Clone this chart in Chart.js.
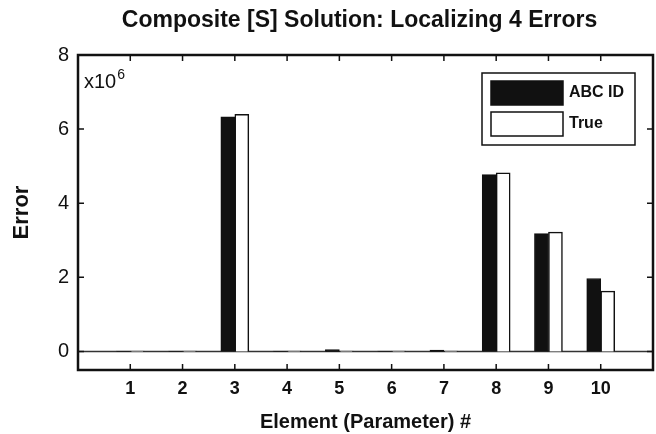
<!DOCTYPE html>
<html>
<head>
<meta charset="utf-8">
<script src="https://cdn.jsdelivr.net/npm/chart.js@4.4.1/dist/chart.umd.min.js"></script>
<style>
  html, body { margin: 0; padding: 0; background: #fff; }
  #wrap { width: 656px; height: 434px; }
</style>
</head>
<body>
<div id="wrap"><canvas id="chart" width="656" height="434"></canvas></div>
<script>
// element numbers (blank slots at both ends give the full-unit margin)
const elements = ['', '1', '2', '3', '4', '5', '6', '7', '8', '9', '10', '']
// errors in units of 1e6
const abcId = [null, 0.01, 0.01, 6.33, 0.01, 0.05, 0.01, 0.04, 4.77, 3.18, 1.97, null]
const trueVals = [null, 0.01, 0.01, 6.40, 0.01, 0.01, 0.01, 0.01, 4.82, 3.22, 1.63, null]
const yTicks = [0, 2, 4, 6, 8]

const FONT = '"Liberation Sans", Arial, Helvetica, sans-serif'
const INK = '#111'

// frame, zero line, inward ticks, title, exponent and legend box
const decorations = {
  id: 'decorations',
  beforeDatasetsDraw(chart) {
    const { ctx, chartArea: a, scales } = chart
    const y0 = scales.y.getPixelForValue(0)
    ctx.save()
    ctx.strokeStyle = '#333'
    ctx.lineWidth = 1.5
    ctx.beginPath()
    ctx.moveTo(a.left, y0)
    ctx.lineTo(a.right, y0)
    ctx.stroke()
    ctx.restore()
  },
  afterDraw(chart) {
    const { ctx, chartArea: a, scales } = chart
    ctx.save()

    // inward tick marks
    ctx.strokeStyle = INK
    ctx.lineWidth = 1.5
    ctx.beginPath()
    for (let i = 1; i < elements.length - 1; i++) {
      const x = scales.x.getPixelForValue(i)
      ctx.moveTo(x, a.bottom)
      ctx.lineTo(x, a.bottom - 6)
      ctx.moveTo(x, a.top)
      ctx.lineTo(x, a.top + 6)
    }
    yTicks.forEach(v => {
      const y = scales.y.getPixelForValue(v)
      ctx.moveTo(a.left, y)
      ctx.lineTo(a.left + 6, y)
      ctx.moveTo(a.right, y)
      ctx.lineTo(a.right - 6, y)
    })
    ctx.stroke()

    // frame
    ctx.lineWidth = 2.5
    ctx.strokeRect(a.left, a.top, a.right - a.left, a.bottom - a.top)

    // title
    ctx.fillStyle = INK
    ctx.font = 'bold 23px ' + FONT
    ctx.textAlign = 'center'
    ctx.textBaseline = 'middle'
    ctx.fillText('Composite [S] Solution: Localizing 4 Errors', (a.left + a.right) / 2 - 6, 21)

    // exponent
    ctx.textAlign = 'left'
    ctx.textBaseline = 'alphabetic'
    ctx.font = '20px ' + FONT
    ctx.fillText('x10', a.left + 6, a.top + 33)
    const w = ctx.measureText('x10').width
    ctx.font = '14px ' + FONT
    ctx.fillText('6', a.left + 6 + w + 1, a.top + 24)

    // legend
    const bx = a.right - 171
    const by = a.top + 18
    ctx.lineWidth = 1.5
    ctx.strokeStyle = INK
    ctx.fillStyle = '#fff'
    ctx.fillRect(bx, by, 153, 72)
    ctx.strokeRect(bx, by, 153, 72)
    chart.data.datasets.forEach((ds, i) => {
      const sy = by + 8 + i * 31
      ctx.fillStyle = ds.backgroundColor
      ctx.fillRect(bx + 9, sy, 72, 24)
      ctx.strokeStyle = INK
      ctx.lineWidth = 1.5
      ctx.strokeRect(bx + 9, sy, 72, 24)
      ctx.fillStyle = INK
      ctx.font = 'bold 16px ' + FONT
      ctx.textBaseline = 'middle'
      ctx.fillText(ds.label, bx + 87, sy + 12)
    })
    ctx.restore()
  }
}

const ctx = document.getElementById('chart').getContext('2d')
new Chart(ctx, {
  type: 'bar',
  data: {
    labels: elements,
    datasets: [
      {
        label: 'ABC ID',
        data: abcId,
        backgroundColor: INK,
        borderColor: INK,
        borderWidth: 1,
        barThickness: 14
      },
      {
        label: 'True',
        data: trueVals,
        backgroundColor: '#fff',
        borderColor: INK,
        borderWidth: 1.5,
        barThickness: 14
      }
    ]
  },
  options: {
    responsive: false,
    animation: false,
    layout: { padding: { top: 55, right: 3, left: 0, bottom: 0 } },
    plugins: {
      legend: { display: false },
      title: { display: false },
      tooltip: { enabled: false }
    },
    scales: {
      x: {
        offset: false,
        grid: { display: false, drawTicks: false },
        border: { display: false },
        ticks: {
          autoSkip: false,
          maxRotation: 0,
          padding: 8,
          color: INK,
          font: { family: FONT, size: 18, weight: 'bold' }
        },
        title: {
          display: true,
          text: 'Element (Parameter) #',
          color: INK,
          padding: { top: 10, bottom: 0 },
          font: { family: FONT, size: 20, weight: 'bold' }
        },
        afterFit(scale) {
          scale.height = 64
          scale.paddingLeft = 0
          scale.paddingRight = 0
        }
      },
      y: {
        min: -0.5,
        max: 8,
        grid: { display: false, drawTicks: false },
        border: { display: false },
        afterBuildTicks(scale) { scale.ticks = yTicks.map(v => ({ value: v })) },
        ticks: {
          padding: 9,
          color: INK,
          font: { family: FONT, size: 20 }
        },
        title: {
          display: true,
          text: 'Error',
          color: INK,
          padding: { top: 9, bottom: 0 },
          font: { family: FONT, size: 22, weight: 'bold' }
        },
        afterFit(scale) { scale.width = 78 }
      }
    }
  },
  plugins: [decorations]
})
</script>
</body>
</html>
